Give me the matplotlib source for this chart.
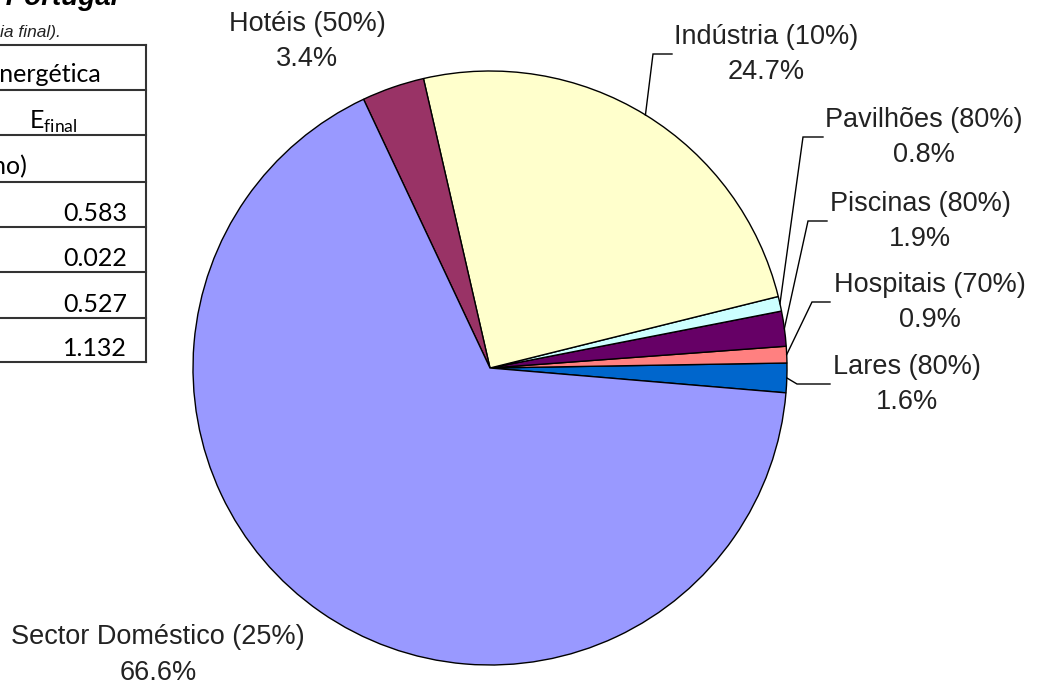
import numpy as np
import matplotlib
matplotlib.use('Agg')
import matplotlib.pyplot as plt

# pie data (share of final energy, %), counterclockwise from the right
categories = ['Lares', 'Hospitais', 'Piscinas', 'Pavilhões', 'Indústria',
              'Hotéis', 'Sector Doméstico']
shares = [1.6, 0.9, 1.9, 0.8, 24.7, 3.4, 66.6]
efficiency = [80, 70, 80, 80, 10, 50, 25]
colors = ['#0066CC', '#FF8080', '#660066', '#CCFFFF', '#FFFFCC',
          '#993366', '#9999FF']

# visible column of the table on the left
table_values = ['0.583', '0.022', '0.527', '1.132']

# layout (pixels, y down)
W, H = 1041, 691
center = (490, 368)
radius = 297
label_pos = [(907, 384), (930, 302), (920, 221), (924, 137), (766, 54),
             (307, 41), (158, 655)]
leader_elbow = [797, 812, 808, 803, 653, None, None]
leader_end = [830, 830, 827, 823, 672, None, None]

fig = plt.figure(figsize=(W / 100, H / 100), dpi=100)
ax = fig.add_axes([0, 0, 1, 1])

wedges, _ = ax.pie(shares, colors=colors, center=center, radius=radius,
                   startangle=4.8, counterclock=False,
                   wedgeprops=dict(edgecolor='black', linewidth=1.0))
ax.set_xlim(0, W)
ax.set_ylim(H, 0)
ax.set_aspect('equal')
ax.axis('off')

txt = '#222222'
for i, w in enumerate(wedges):
    lx, ly = label_pos[i]
    ax.text(lx, ly, f'{categories[i]} ({efficiency[i]}%)\n{shares[i]}%',
            ha='center', va='center', fontsize=19.5, color=txt,
            family='Liberation Sans', linespacing=1.45)
    if leader_elbow[i] is not None:
        mid = np.deg2rad((w.theta1 + w.theta2) / 2)
        ex = center[0] + radius * np.cos(mid)
        ey = center[1] + radius * np.sin(mid)
        ax.plot([ex, leader_elbow[i], leader_end[i]], [ey, ly, ly],
                color='black', lw=1.0, solid_joinstyle='miter')

# cropped table on the left
row_lines = [45, 90, 135, 182, 227, 272, 318, 362]
for y in row_lines:
    ax.plot([0, 146], [y, y], color='#333333', lw=1.5)
ax.plot([146, 146], [row_lines[0], row_lines[-1]], color='#333333', lw=1.5)

tfont = dict(family='Lato', fontsize=18, color='black')
ax.text(101, 82, 'energética', ha='right', va='baseline', **tfont)
ax.text(53, 129, r'E$_{\mathregular{final}}$', ha='center', va='baseline', **tfont)
ax.text(28, 174, '(ano)', ha='right', va='baseline', **tfont)
for k, v in enumerate(table_values):
    ax.text(127, row_lines[k + 4] - 6, v, ha='right', va='baseline', **tfont)

ax.text(118, 5, 'em Portugal', ha='right', va='baseline', fontsize=20,
        fontweight='bold', style='italic', family='Liberation Sans')
ax.text(61, 37, '(energia final).', ha='right', va='baseline', fontsize=12.5,
        style='italic', family='Liberation Sans', color=txt)

fig.savefig('out.png', dpi=100)
